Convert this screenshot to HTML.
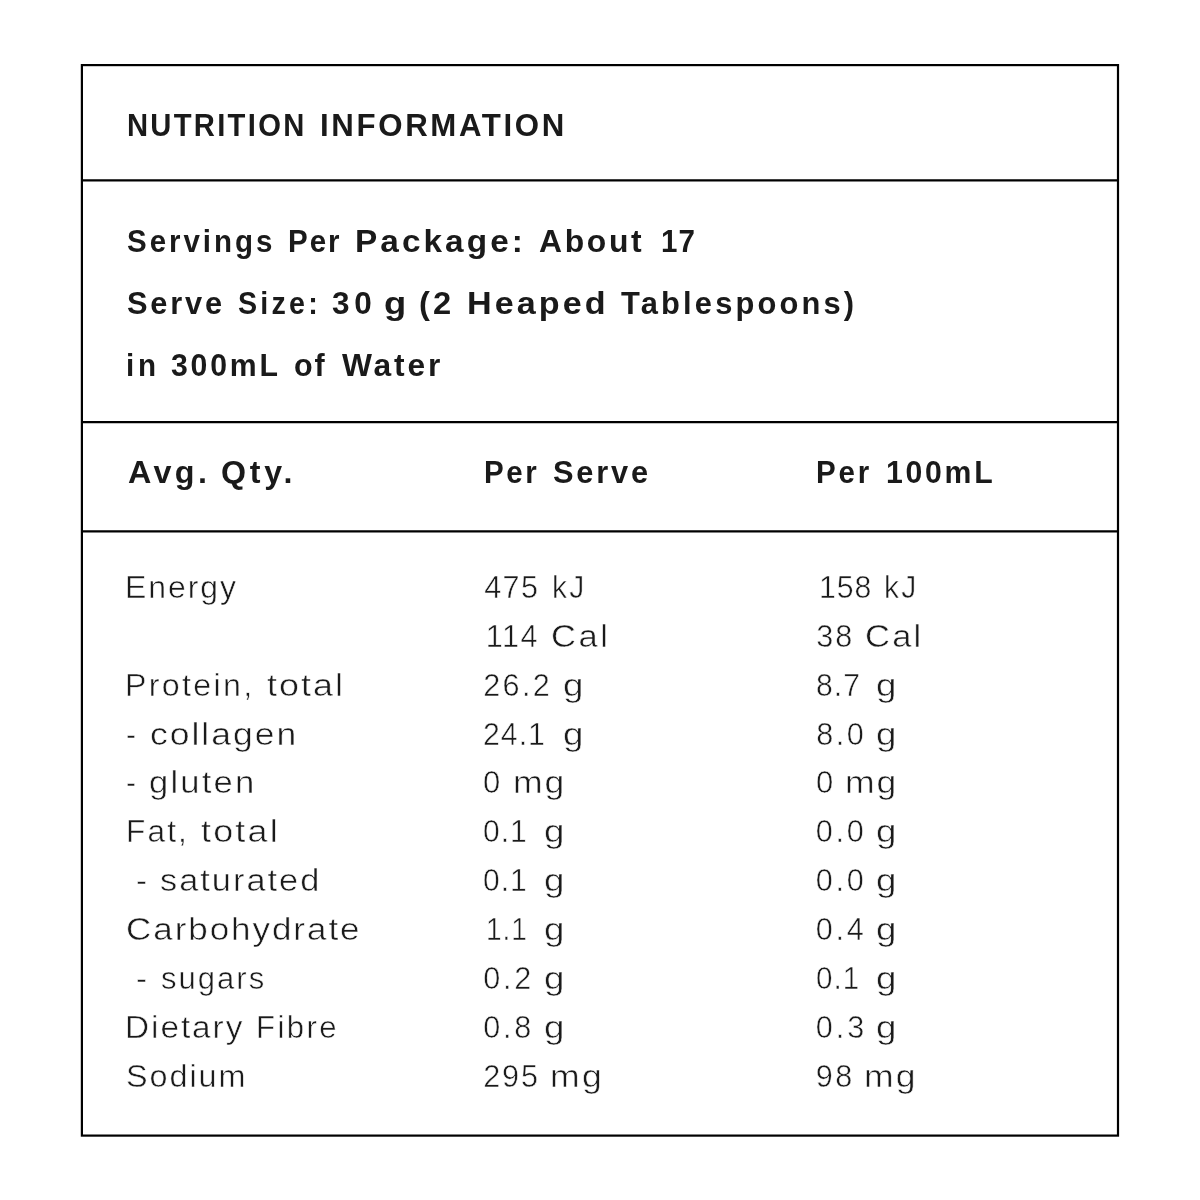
<!DOCTYPE html>
<html lang="en"><head><meta charset="utf-8"><title>Nutrition Information</title>
<style>
html,body{margin:0;padding:0;background:#fff;}
body{width:1200px;height:1200px;position:relative;overflow:hidden;font-family:"Liberation Sans",sans-serif;}
.frame{position:absolute;left:0;top:0;}
h1,p,section,div{display:contents;margin:0;padding:0;font:inherit;}
span{position:absolute;white-space:nowrap;line-height:40px;transform-origin:0 0;}
.t{font-size:32.2px;font-weight:700;color:#1a1a1a;}
.b{font-size:31.3px;font-weight:700;color:#1a1a1a;}
.l{font-size:30.6px;font-weight:400;color:#1a1a1a;-webkit-text-stroke:0.5px #fff;}
</style></head><body>
<main>
<svg class="frame" width="1200" height="1200" viewBox="0 0 1200 1200" fill="none" stroke="#000" stroke-width="2.2">
<rect x="81.9" y="65.1" width="1036.1" height="1070.5"/>
<path d="M81.9 180.3H1118M81.9 422.1H1118M81.9 531.4H1118"/>
</svg>
<h1 class="title"><span class="t" style="left:127.07px;top:105.00px;letter-spacing:2.52px;transform:scaleX(0.907);">NUTRITION</span> <span class="t" style="left:319.75px;top:105.00px;letter-spacing:2.72px;transform:scaleX(0.970);">INFORMATION</span></h1>
<section class="serving">
<p class="line"><span class="b" style="left:127.04px;top:222.00px;letter-spacing:3.16px;transform:scaleX(0.942);">Servings</span> <span class="b" style="left:287.66px;top:222.00px;letter-spacing:2.08px;transform:scaleX(0.943);">Per</span> <span class="b" style="left:355.42px;top:222.00px;letter-spacing:2.88px;transform:scaleX(1.065);">Package:</span> <span class="b" style="left:538.75px;top:222.00px;letter-spacing:2.61px;transform:scaleX(1.018);">About</span> <span class="b" style="left:661.15px;top:222.00px;letter-spacing:1.00px;transform:scaleX(0.944);">17</span></p>
<p class="line"><span class="b" style="left:127.02px;top:284.00px;letter-spacing:2.82px;transform:scaleX(0.984);">Serve</span> <span class="b" style="left:237.55px;top:284.00px;letter-spacing:3.53px;transform:scaleX(0.916);">Size:</span> <span class="b" style="left:331.51px;top:284.00px;letter-spacing:4.67px;transform:scaleX(1.007);">30</span> <span class="b" style="left:383.86px;top:284.00px;transform:scaleX(1.162);">g</span> <span class="b" style="left:419.22px;top:284.00px;letter-spacing:2.88px;transform:scaleX(1.045);">(2</span> <span class="b" style="left:466.62px;top:284.00px;letter-spacing:2.79px;transform:scaleX(1.091);">Heaped</span> <span class="b" style="left:620.50px;top:284.00px;letter-spacing:3.21px;transform:scaleX(0.986);">Tablespoons)</span></p>
<p class="line"><span class="b" style="left:125.65px;top:346.00px;letter-spacing:4.12px;transform:scaleX(0.945);">in</span> <span class="b" style="left:171.03px;top:346.00px;letter-spacing:2.90px;transform:scaleX(0.966);">300mL</span> <span class="b" style="left:293.55px;top:346.00px;letter-spacing:1.88px;transform:scaleX(0.975);">of</span> <span class="b" style="left:341.60px;top:346.00px;letter-spacing:2.77px;transform:scaleX(1.015);">Water</span></p>
</section>
<section class="table">
<div class="thead"><span class="b" style="left:127.50px;top:452.50px;letter-spacing:3.26px;transform:scaleX(1.032);">Avg.</span> <span class="b" style="left:221.00px;top:452.50px;letter-spacing:3.66px;transform:scaleX(1.027);">Qty.</span> <span class="b" style="left:483.91px;top:452.50px;letter-spacing:2.75px;transform:scaleX(0.943);">Per</span> <span class="b" style="left:553.27px;top:452.50px;letter-spacing:2.82px;transform:scaleX(0.984);">Serve</span> <span class="b" style="left:816.41px;top:452.50px;letter-spacing:3.01px;transform:scaleX(0.943);">Per</span> <span class="b" style="left:886.36px;top:452.50px;letter-spacing:2.81px;transform:scaleX(0.966);">100mL</span></div>
<div class="tr"><span class="l" style="left:125.49px;top:567.00px;letter-spacing:1.88px;transform:scaleX(1.044);">Energy</span> <span class="l" style="left:484.27px;top:567.00px;letter-spacing:1.30px;">475</span> <span class="l" style="left:551.62px;top:567.00px;letter-spacing:2.18px;transform:scaleX(0.984);">kJ</span> <span class="l" style="left:819.12px;top:567.00px;letter-spacing:1.00px;transform:scaleX(0.987);">158</span> <span class="l" style="left:884.12px;top:567.00px;letter-spacing:2.18px;transform:scaleX(0.984);">kJ</span></div>
<div class="tr"><span class="l" style="left:485.85px;top:616.00px;letter-spacing:1.41px;">114</span> <span class="l" style="left:550.60px;top:616.00px;letter-spacing:2.23px;transform:scaleX(1.131);">Cal</span> <span class="l" style="left:816.30px;top:616.00px;letter-spacing:2.03px;">38</span> <span class="l" style="left:865.10px;top:616.00px;letter-spacing:1.90px;transform:scaleX(1.131);">Cal</span></div>
<div class="tr"><span class="l" style="left:125.47px;top:665.00px;letter-spacing:2.21px;transform:scaleX(1.052);">Protein,</span> <span class="l" style="left:266.71px;top:665.00px;letter-spacing:1.73px;transform:scaleX(1.173);">total</span> <span class="l" style="left:483.32px;top:665.00px;letter-spacing:2.28px;">26.2</span> <span class="l" style="left:562.50px;top:665.00px;transform:scaleX(1.200);">g</span> <span class="l" style="left:816.31px;top:665.00px;letter-spacing:1.00px;transform:scaleX(0.986);">8.7</span> <span class="l" style="left:876.25px;top:665.00px;transform:scaleX(1.200);">g</span></div>
<div class="tr"><span class="l" style="left:126.31px;top:714.00px;transform:scaleX(0.983);">-</span> <span class="l" style="left:149.85px;top:714.00px;letter-spacing:1.72px;transform:scaleX(1.160);">collagen</span> <span class="l" style="left:483.33px;top:714.00px;letter-spacing:1.00px;transform:scaleX(0.989);">24.1</span> <span class="l" style="left:562.50px;top:714.00px;transform:scaleX(1.200);">g</span> <span class="l" style="left:816.30px;top:714.00px;letter-spacing:2.42px;">8.0</span> <span class="l" style="left:876.25px;top:714.00px;transform:scaleX(1.200);">g</span></div>
<div class="tr"><span class="l" style="left:126.31px;top:762.00px;transform:scaleX(0.983);">-</span> <span class="l" style="left:149.39px;top:762.00px;letter-spacing:1.95px;transform:scaleX(1.131);">gluten</span> <span class="l" style="left:483.28px;top:762.00px;transform:scaleX(1.014);">0</span> <span class="l" style="left:512.99px;top:762.00px;letter-spacing:1.69px;transform:scaleX(1.161);">mg</span> <span class="l" style="left:815.78px;top:762.00px;transform:scaleX(1.014);">0</span> <span class="l" style="left:845.49px;top:762.00px;letter-spacing:1.69px;transform:scaleX(1.161);">mg</span></div>
<div class="tr"><span class="l" style="left:125.52px;top:811.00px;letter-spacing:2.02px;transform:scaleX(1.035);">Fat,</span> <span class="l" style="left:200.96px;top:811.00px;letter-spacing:1.89px;transform:scaleX(1.173);">total</span> <span class="l" style="left:483.32px;top:811.00px;letter-spacing:1.00px;transform:scaleX(0.980);">0.1</span> <span class="l" style="left:543.75px;top:811.00px;transform:scaleX(1.200);">g</span> <span class="l" style="left:815.80px;top:811.00px;letter-spacing:2.67px;">0.0</span> <span class="l" style="left:876.25px;top:811.00px;transform:scaleX(1.200);">g</span></div>
<div class="tr"><span class="l" style="left:136.20px;top:860.00px;transform:scaleX(1.082);">-</span> <span class="l" style="left:160.43px;top:860.00px;letter-spacing:1.80px;transform:scaleX(1.122);">saturated</span> <span class="l" style="left:483.32px;top:860.00px;letter-spacing:1.00px;transform:scaleX(0.980);">0.1</span> <span class="l" style="left:543.75px;top:860.00px;transform:scaleX(1.200);">g</span> <span class="l" style="left:815.80px;top:860.00px;letter-spacing:2.67px;">0.0</span> <span class="l" style="left:876.25px;top:860.00px;transform:scaleX(1.200);">g</span></div>
<div class="tr"><span class="l" style="left:125.57px;top:909.00px;letter-spacing:1.69px;transform:scaleX(1.145);">Carbohydrate</span> <span class="l" style="left:486.02px;top:909.00px;letter-spacing:1.00px;transform:scaleX(0.917);">1.1</span> <span class="l" style="left:543.75px;top:909.00px;transform:scaleX(1.200);">g</span> <span class="l" style="left:815.80px;top:909.00px;letter-spacing:2.67px;">0.4</span> <span class="l" style="left:876.25px;top:909.00px;transform:scaleX(1.200);">g</span></div>
<div class="tr"><span class="l" style="left:136.20px;top:958.00px;transform:scaleX(1.082);">-</span> <span class="l" style="left:160.51px;top:958.00px;letter-spacing:1.99px;transform:scaleX(1.014);">sugars</span> <span class="l" style="left:483.30px;top:958.00px;letter-spacing:2.66px;">0.2</span> <span class="l" style="left:543.75px;top:958.00px;transform:scaleX(1.200);">g</span> <span class="l" style="left:815.83px;top:958.00px;letter-spacing:1.00px;transform:scaleX(0.968);">0.1</span> <span class="l" style="left:876.25px;top:958.00px;transform:scaleX(1.200);">g</span></div>
<div class="tr"><span class="l" style="left:125.37px;top:1007.00px;letter-spacing:1.79px;transform:scaleX(1.090);">Dietary</span> <span class="l" style="left:256.06px;top:1007.00px;letter-spacing:2.34px;transform:scaleX(1.018);">Fibre</span> <span class="l" style="left:483.30px;top:1007.00px;letter-spacing:2.66px;">0.8</span> <span class="l" style="left:543.75px;top:1007.00px;transform:scaleX(1.200);">g</span> <span class="l" style="left:815.80px;top:1007.00px;letter-spacing:2.91px;">0.3</span> <span class="l" style="left:876.25px;top:1007.00px;transform:scaleX(1.200);">g</span></div>
<div class="tr"><span class="l" style="left:126.22px;top:1056.00px;letter-spacing:1.84px;transform:scaleX(1.058);">Sodium</span> <span class="l" style="left:483.32px;top:1056.00px;letter-spacing:1.78px;">295</span> <span class="l" style="left:550.49px;top:1056.00px;letter-spacing:2.12px;transform:scaleX(1.161);">mg</span> <span class="l" style="left:815.82px;top:1056.00px;letter-spacing:2.51px;">98</span> <span class="l" style="left:864.49px;top:1056.00px;letter-spacing:1.91px;transform:scaleX(1.161);">mg</span></div>
</section>
</main>
</body></html>
